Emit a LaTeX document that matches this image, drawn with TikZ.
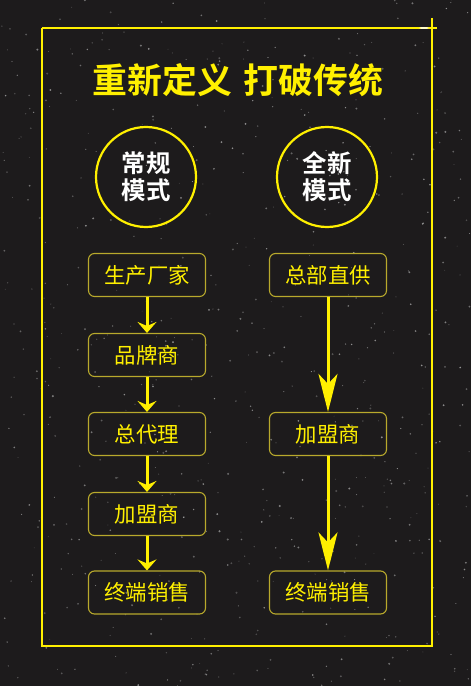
\documentclass[tikz,border=0pt]{standalone}
\usepackage{fontspec}
\newfontfamily\cjk{Noto Sans CJK SC}
\newfontfamily\cjkbold{Noto Sans CJK SC Bold}
\usetikzlibrary{arrows.meta}
\definecolor{bg}{HTML}{1D1B1C}
\definecolor{ylw}{HTML}{FFF000}
\definecolor{boxline}{HTML}{B8A92C}
\definecolor{speck}{HTML}{B0B0B0}
\begin{document}
\begin{tikzpicture}[x=1bp,y=-1bp,
  stepbox/.style={draw=boxline,line width=1.1bp,rounded corners=6bp,minimum width=117bp,minimum height=43bp,inner sep=0pt,text=ylw,font=\cjk\fontsize{21.5}{24}\selectfont},
  modecircle/.style={draw=ylw,line width=2.2bp,circle,minimum size=100bp,inner sep=0pt,text=white,align=center,font=\cjkbold\fontsize{24.5}{27}\selectfont},
  shortarrow/.style={draw=ylw,line width=3bp,-{Stealth[length=11bp,width=19bp,inset=4bp]}},
  longarrow/.style={draw=ylw,line width=3bp,-{Stealth[length=38bp,width=19bp,inset=10bp]}}
]
\useasboundingbox (0,0) rectangle (471,686);
\fill[bg] (0,0) rectangle (471,686);
% speckles
\pgfmathsetseed{4711}
\foreach \i in {1,...,650}{
  \pgfmathsetmacro{\px}{rnd*471}
  \pgfmathsetmacro{\py}{rnd*686}
  \pgfmathsetmacro{\pr}{0.4+rnd*0.7}
  \pgfmathsetmacro{\po}{0.3+rnd*0.5}
  \fill[speck,opacity=\po] (\px,\py) circle[radius=\pr];
}
% frame
\draw[ylw,line width=2.4bp] (42,28) -- (437,28);
\draw[ylw,line width=2.4bp] (432,18) -- (432,646) -- (42,646) -- (42,28);
\fill[white,opacity=0.8] (424,28) ellipse[x radius=5bp,y radius=1bp];
% title
\node[text=ylw,font=\cjkbold\fontsize{35}{38}\selectfont] (title) at (238,80) {重新定义\hspace{12bp}打破传统};
% circles
\node[modecircle] (cL) at (146,177) {常规\\模式};
\node[modecircle] (cR) at (327,177) {全新\\模式};
% left column
\node[stepbox] (l1) at (147,275) {生产厂家};
\node[stepbox] (l2) at (147,355) {品牌商};
\node[stepbox] (l3) at (147,434) {总代理};
\node[stepbox] (l4) at (147,514) {加盟商};
\node[stepbox] (l5) at (147,592.5) {终端销售};
% right column
\node[stepbox] (r1) at (328,275) {总部直供};
\node[stepbox] (r2) at (328,434) {加盟商};
\node[stepbox] (r3) at (328,592.5) {终端销售};
% arrows
\draw[shortarrow] (l1.south) -- (l2.north);
\draw[shortarrow] (l2.south) -- (l3.north);
\draw[shortarrow] (l3.south) -- (l4.north);
\draw[shortarrow] (l4.south) -- (l5.north);
\draw[longarrow] (r1.south) -- (r2.north);
\draw[longarrow] (r2.south) -- (r3.north);
\end{tikzpicture}
\end{document}
